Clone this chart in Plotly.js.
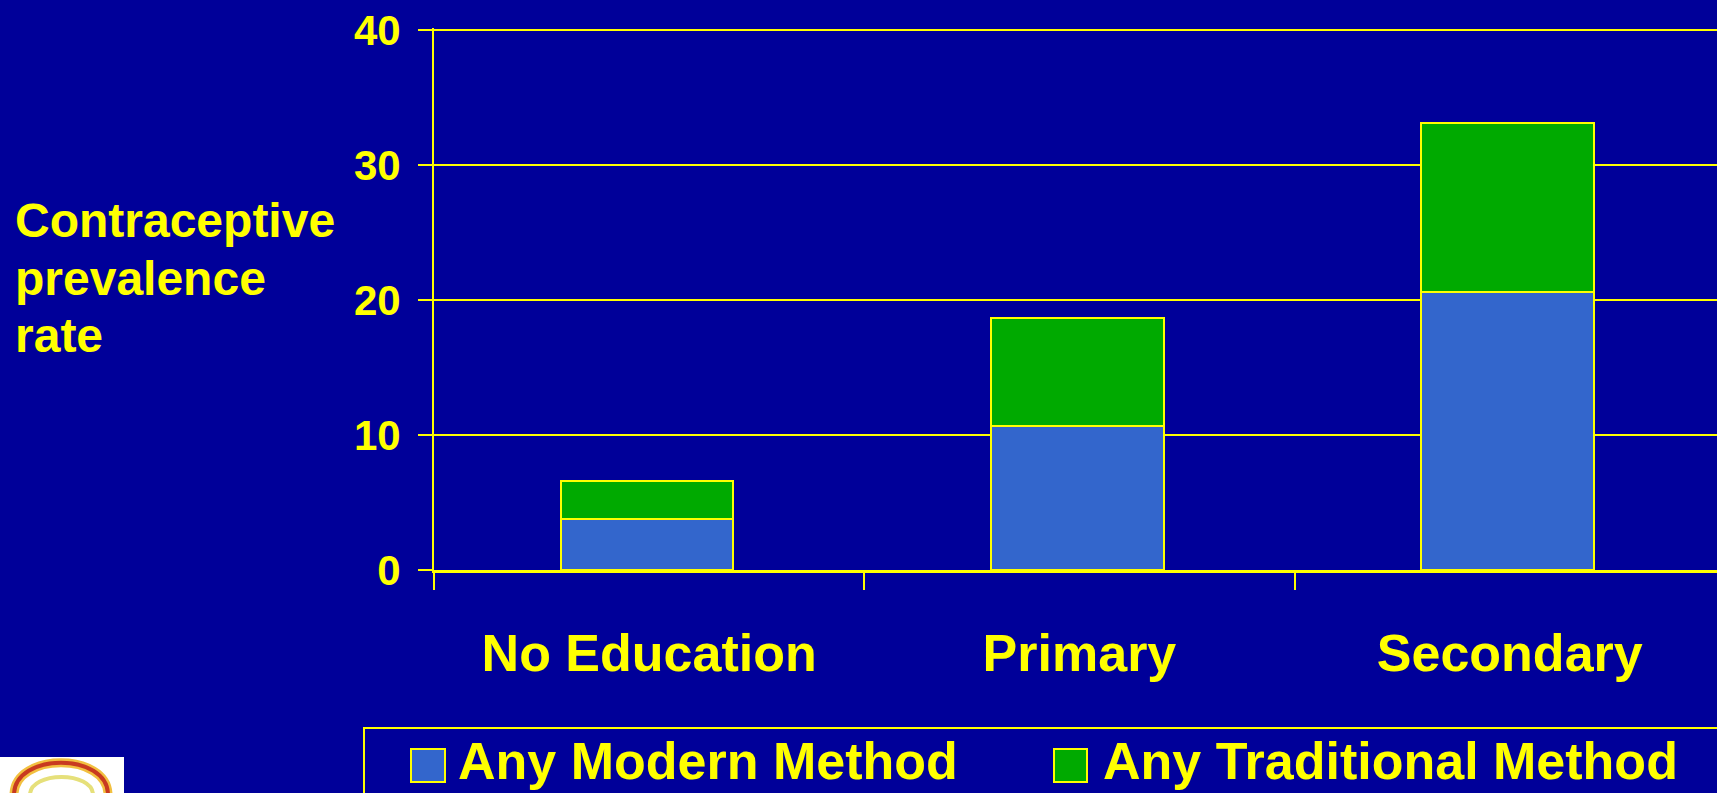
<!DOCTYPE html>
<html>
<head>
<meta charset="utf-8">
<script src="https://cdn.plot.ly/plotly-3.0.1.min.js"></script>
<style>html,body{margin:0;padding:0;background:#000099;overflow:hidden;}#chart{width:1717px;height:793px;}</style>
</head>
<body>
<div id="chart"></div>
<script>
// ---- data ----
const categories = ["No Education", "Primary", "Secondary"];
const modernMethod = [3.8, 10.7, 20.6];
const traditionalMethod = [2.8, 8.0, 12.5];
const seriesNames = ["Any Modern Method", "Any Traditional Method"];
const yTickValues = [0, 10, 20, 30, 40];
const yTitleLines = ["Contraceptive", "prevalence", "rate"];

// ---- style ----
const BG = "#000099";
const YELLOW = "#FFFF00";
const MODERN = "#3366CC";
const TRAD = "#00AA00";
const FONT = "Liberation Sans, Arial, Helvetica, sans-serif";

const W = 1717, H = 793;
const ML = 434, MT = 28, MB = 223, MR = 0;
const PL = ML, PR = W - MR, PT = MT, PB = H - MB;
const Y_MAX = 40.15;
const px = v => (v - PL) / (PR - PL);
const py = v => (PB - v) / (PB - PT);
const catWidth = 430.3;
const barWidth = 0.402;
const barOffset = -barWidth / 2 - 0.005;

const traces = [
  {type: "bar", name: seriesNames[0], x: categories, y: modernMethod, width: barWidth, offset: barOffset,
   marker: {color: MODERN, line: {color: YELLOW, width: 2}}, showlegend: false, hoverinfo: "x+y+name"},
  {type: "bar", name: seriesNames[1], x: categories, y: traditionalMethod, width: barWidth, offset: barOffset,
   marker: {color: TRAD, line: {color: YELLOW, width: 2}}, showlegend: false, hoverinfo: "x+y+name"}
];

const annotations = [];
const titleBaselines = [238, 295, 352];
yTitleLines.forEach((t, i) => {
  annotations.push({text: t, xref: "paper", yref: "paper", x: px(13), y: py(titleBaselines[i] - 17),
    xanchor: "left", yanchor: "middle", showarrow: false, align: "left",
    font: {family: FONT, size: 48, color: YELLOW, weight: 700}});
});
// legend texts
const legendTextX = [456, 1101];
seriesNames.forEach((n, i) => {
  annotations.push({text: n, xref: "paper", yref: "paper", x: px(legendTextX[i]), y: py(761),
    xanchor: "left", yanchor: "middle", showarrow: false,
    font: {family: FONT, size: 52, color: YELLOW, weight: 700}});
});

const shapes = [
  // legend box
  {type: "rect", xref: "paper", yref: "paper", x0: px(364), x1: px(1730), y0: py(728), y1: py(810),
   line: {color: YELLOW, width: 2}, fillcolor: "rgba(0,0,0,0)"},
  // legend keys
  {type: "rect", xref: "paper", yref: "paper", x0: px(411), x1: px(445), y0: py(749), y1: py(782),
   line: {color: YELLOW, width: 2}, fillcolor: MODERN},
  {type: "rect", xref: "paper", yref: "paper", x0: px(1054), x1: px(1087), y0: py(749), y1: py(782),
   line: {color: YELLOW, width: 2}, fillcolor: TRAD},
  // logo
  {type: "rect", xref: "paper", yref: "paper", x0: px(0), x1: px(124), y0: py(757), y1: py(800),
   line: {width: 0}, fillcolor: "#FFFFFF"},
];
function logoPath(pts) {
  return "M" + px(pts[0]) + "," + py(pts[1]) + " C" + px(pts[2]) + "," + py(pts[3]) + " " +
    px(pts[4]) + "," + py(pts[5]) + " " + px(pts[6]) + "," + py(pts[7]);
}
shapes.push({type: "path", xref: "paper", yref: "paper", path: logoPath([14, 795, 14, 752, 108, 752, 108, 795]),
  line: {color: "#F2C040", width: 9}});
shapes.push({type: "path", xref: "paper", yref: "paper", path: logoPath([14, 795, 14, 752, 108, 752, 108, 795]),
  line: {color: "#C83A20", width: 4}});
shapes.push({type: "path", xref: "paper", yref: "paper", path: logoPath([30, 795, 30, 771, 93, 771, 93, 795]),
  line: {color: "#E6E07A", width: 4}});

const layout = {
  width: W, height: H,
  paper_bgcolor: BG, plot_bgcolor: BG,
  margin: {l: ML, r: MR, t: MT, b: MB, pad: 0},
  barmode: "stack",
  showlegend: false,
  font: {family: FONT, color: YELLOW, weight: 700},
  xaxis: {
    type: "category",
    range: [-0.5, -0.5 + (PR - PL) / catWidth],
    showline: true, linecolor: YELLOW, linewidth: 3,
    ticks: "outside", tickson: "boundaries", ticklen: 17, tickwidth: 2, tickcolor: YELLOW,
    ticklabelstandoff: 36,
    showgrid: false, zeroline: false,
    tickfont: {family: FONT, size: 52, color: YELLOW, weight: 700},
    fixedrange: true
  },
  yaxis: {
    range: [0, Y_MAX],
    tickvals: yTickValues,
    showline: true, linecolor: YELLOW, linewidth: 2,
    ticks: "outside", ticklen: 14, tickwidth: 2, tickcolor: YELLOW,
    ticklabelstandoff: 9,
    showgrid: true, gridcolor: YELLOW, gridwidth: 2,
    zeroline: false,
    tickfont: {family: FONT, size: 42, color: YELLOW, weight: 700},
    fixedrange: true
  },
  annotations: annotations,
  shapes: shapes
};

Plotly.newPlot("chart", traces, layout, {displayModeBar: false, staticPlot: true});
</script>
</body>
</html>
